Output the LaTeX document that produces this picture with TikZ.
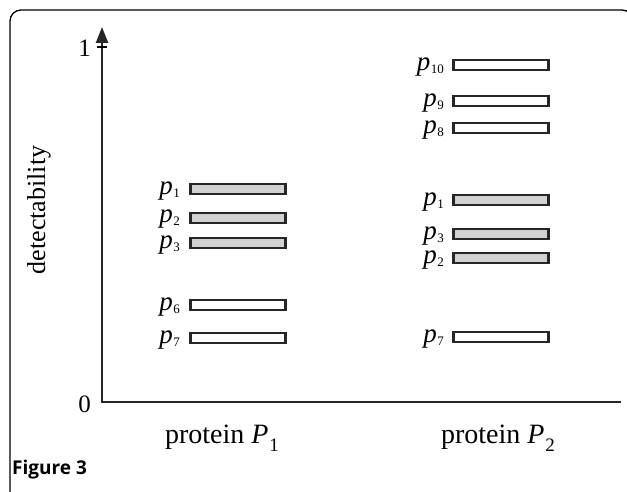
\documentclass[tikz,border=0pt]{standalone}
\usepackage{fontspec}
\setmainfont{Liberation Serif}
\newfontfamily\captionfont{Open Sans}
\usetikzlibrary{arrows.meta}

% peptide label: italic p with an upright subscript
\newcommand{\pep}[1]{\textit{p}\kern0.5pt\raisebox{-0.12em}{\fontsize{13}{13}\selectfont #1}}
% protein label: italic P with an upright subscript
\newcommand{\prot}[1]{protein \textit{P}\kern1pt\raisebox{-0.3em}{\fontsize{19}{19}\selectfont #1}}

\tikzset{
  bar/.style={draw=black!85, line width=2.3pt, minimum width=95pt, minimum height=10pt,
              inner sep=0pt, outer sep=0pt},
  shared/.style={bar, fill=black!18},
  other/.style={bar, fill=white},
  peplabel/.style={anchor=east, inner sep=0pt, font=\fontsize{27}{27}\selectfont},
  axislabel/.style={inner sep=0pt, font=\fontsize{25}{25}\selectfont},
  protlabel/.style={inner sep=0pt, font=\fontsize{28}{28}\selectfont},
  axisline/.style={line width=2.4pt, draw=black!85},
}

\begin{document}
\begin{tikzpicture}[x=1pt, y=-1pt]
\useasboundingbox (0,0) rectangle (627,492);
\begin{scope}
  \clip (0,0) rectangle (627,492);
  % outer frame of the figure panel
  \draw[line width=1.3pt, rounded corners=11pt] (10,10) rectangle (633,506);
\end{scope}

% axes
\coordinate (origin) at (102,402);
\coordinate (ytop) at (102,27);
\coordinate (xend) at (621,402);
\draw[axisline, -{Triangle[width=12pt,length=16pt]}] (xend) -- (origin) -- (ytop);
\coordinate (tickL) at (97,47);
\coordinate (tickR) at (107,47);
\draw[line width=1.2pt] (tickL) -- (tickR);

\node[axislabel, anchor=east] (one) at (91,48) {1};
\node[axislabel, anchor=east] (zero) at (91,404) {0};
\node[axislabel, rotate=90, font=\fontsize{26}{26}\selectfont] (ylab) at (39,210) {detectability};

% protein P1
\node[shared] (a1) at (238,189) {};
\node[shared] (a2) at (238,218) {};
\node[shared] (a3) at (238,243) {};
\node[other]  (a6) at (238,305) {};
\node[other]  (a7) at (238,338) {};
\node[peplabel] (la1) at (180,191) {\pep{1}};
\node[peplabel] (la2) at (180,219) {\pep{2}};
\node[peplabel] (la3) at (180,245) {\pep{3}};
\node[peplabel] (la6) at (180,307) {\pep{6}};
\node[peplabel] (la7) at (180,340) {\pep{7}};

% protein P2
\node[other]  (b10) at (501,65) {};
\node[other]  (b9)  at (501,101) {};
\node[other]  (b8)  at (501,128) {};
\node[shared] (b1)  at (501,200) {};
\node[shared] (b3)  at (501,234) {};
\node[shared] (b2)  at (501,258) {};
\node[other]  (b7)  at (501,337) {};
\node[peplabel] (lb10) at (444,67)  {\pep{10}};
\node[peplabel] (lb9)  at (444,103) {\pep{9}};
\node[peplabel] (lb8)  at (444,130) {\pep{8}};
\node[peplabel] (lb1)  at (444,202) {\pep{1}};
\node[peplabel] (lb3)  at (444,236) {\pep{3}};
\node[peplabel] (lb2)  at (444,260) {\pep{2}};
\node[peplabel] (lb7)  at (444,339) {\pep{7}};

% protein names
\node[protlabel] (pA) at (222,438) {\prot{1}};
\node[protlabel] (pB) at (498,438) {\prot{2}};

% caption
\node[anchor=west, inner sep=0pt, font=\captionfont\bfseries\fontsize{19}{19}\selectfont] (cap) at (12,470) {Figure 3};
\end{tikzpicture}
\end{document}
